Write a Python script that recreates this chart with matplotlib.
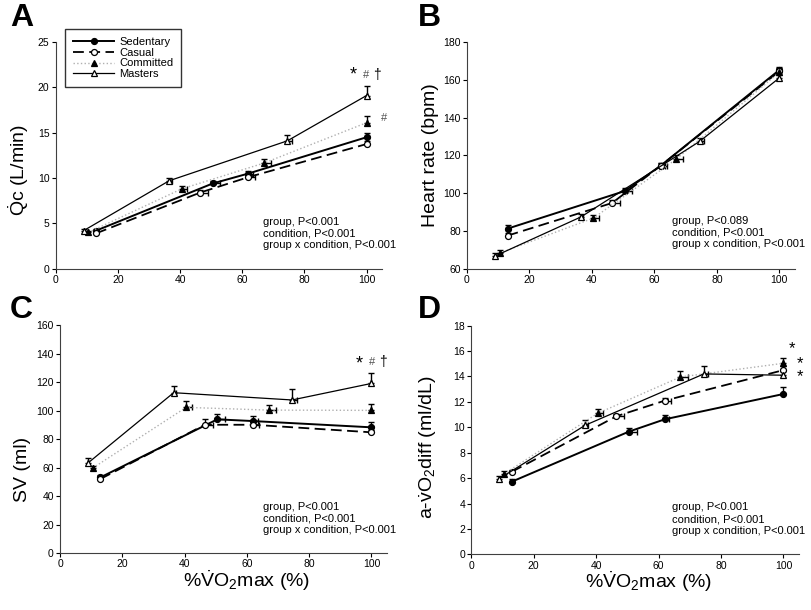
import matplotlib
matplotlib.use('Agg')
import matplotlib.pyplot as plt

plt.rcParams['font.family'] = ['Liberation Sans', 'DejaVu Sans']
plt.rcParams['mathtext.fontset'] = 'custom'
plt.rcParams['mathtext.rm'] = 'Liberation Sans'
plt.rcParams['mathtext.it'] = 'Liberation Sans:italic'

groups = ['Sedentary', 'Casual', 'Committed', 'Masters']

# %VO2max per group (x) and its horizontal SEM
x_vals = {
    'Sedentary': [13, 50.5, 62, 100],
    'Casual': [13, 46.5, 62, 100],
    'Committed': [10.5, 40.5, 67, 100],
    'Masters': [9, 36.5, 74.5, 100],
}
x_err = {
    'Sedentary': [0, 2.5, 1.5, 0],
    'Casual': [0, 2.5, 2.0, 0],
    'Committed': [0, 1.8, 2.3, 0],
    'Masters': [0, 0.8, 1.5, 0],
}

# A: cardiac output (L/min)
qc = {
    'Sedentary': [4.2, 9.4, 10.5, 14.5],
    'Casual': [3.9, 8.4, 10.1, 13.75],
    'Committed': [4.0, 8.8, 11.65, 16.1],
    'Masters': [4.2, 9.7, 14.1, 19.1],
}
qc_err = {
    'Sedentary': [0.2, 0.3, 0.3, 0.5],
    'Casual': [0.2, 0.3, 0.3, 0.3],
    'Committed': [0.2, 0.3, 0.45, 0.7],
    'Masters': [0.2, 0.35, 0.65, 1.0],
}

# B: heart rate (bpm)
hr = {
    'Sedentary': [81.2, 101.1, 114.5, 165.2],
    'Casual': [77.5, 94.8, 114.5, 164.5],
    'Committed': [68.3, 86.8, 118, 164],
    'Masters': [66.7, 87.4, 127.4, 161],
}
hr_err = {
    'Sedentary': [2, 1.5, 1.5, 1.5],
    'Casual': [1.5, 1.5, 1.5, 1.5],
    'Committed': [1.5, 1.5, 2, 1.5],
    'Masters': [1.5, 1.5, 2, 1.5],
}

# C: stroke volume (ml)
sv = {
    'Sedentary': [53.1, 93.8, 92.6, 88.2],
    'Casual': [52, 90, 90, 84.7],
    'Committed': [59.6, 102.2, 100.3, 100.1],
    'Masters': [63.2, 112.5, 107.4, 119],
}
sv_err = {
    'Sedentary': [1.5, 3.7, 3.4, 3.8],
    'Casual': [1.5, 4.3, 2, 1.5],
    'Committed': [1.5, 4.2, 3.6, 4.2],
    'Masters': [3.8, 4.9, 7.6, 7],
}

# D: a-vO2 difference (ml/dL)
avo2 = {
    'Sedentary': [5.72, 9.66, 10.63, 12.62],
    'Casual': [6.5, 10.87, 12.1, 14.5],
    'Committed': [6.33, 11.1, 13.96, 15.04],
    'Masters': [5.96, 10.16, 14.2, 14.1],
}
avo2_err = {
    'Sedentary': [0.2, 0.3, 0.3, 0.55],
    'Casual': [0.15, 0.2, 0.2, 0.3],
    'Committed': [0.2, 0.35, 0.45, 0.4],
    'Masters': [0.2, 0.45, 0.6, 0.3],
}

styles = {
    'Sedentary': dict(color='black', ls='-', lw=1.4, marker='o', mfc='black', mec='black'),
    'Casual': dict(color='black', ls=(0, (6, 3)), lw=1.3, marker='o', mfc='white', mec='black'),
    'Committed': dict(color='#b0b0b0', ls=':', lw=1.0, marker='^', mfc='black', mec='black'),
    'Masters': dict(color='black', ls='-', lw=0.9, marker='^', mfc='white', mec='black'),
}

stats_text = {
    'A': 'group, P<0.001\ncondition, P<0.001\ngroup x condition, P<0.001',
    'B': 'group, P<0.089\ncondition, P<0.001\ngroup x condition, P<0.001',
    'C': 'group, P<0.001\ncondition, P<0.001\ngroup x condition, P<0.001',
    'D': 'group, P<0.001\ncondition, P<0.001\ngroup x condition, P<0.001',
}

xlabel = r'%$\dot{\mathrm{V}}$O$_2$max (%)'

panels = [
    ('A', qc, qc_err, r'$\dot{\mathrm{Q}}$c (L/min)', (0, 25), 5,
     [0.0686, 0.5595, 0.402, 0.3716], (0.635, 0.229), (-0.075, 0.435)),
    ('B', hr, hr_err, 'Heart rate (bpm)', (60, 180), 20,
     [0.575, 0.5595, 0.404, 0.3716], (0.624, 0.232), (-0.085, 0.5)),
    ('C', sv, sv_err, 'SV (ml)', (0, 160), 20,
     [0.0739, 0.0934, 0.4027, 0.3738], (0.622, 0.225), (-0.088, 0.368)),
    ('D', avo2, avo2_err, r'a-$\dot{\mathrm{v}}$O$_2$diff (ml/dL)', (0, 18), 2,
     [0.5804, 0.0913, 0.4036, 0.3748], (0.611, 0.227), (-0.1, 0.469)),
]
xlabel_pos = {'C': (0.572, -0.066), 'D': (0.54, -0.066)}

fig = plt.figure(figsize=(8.12, 6.1), dpi=100)
axes = {}
for letter, data, err, ylab, ylim, ystep, rect, tpos, ypos in panels:
    ax = fig.add_axes(rect)
    axes[letter] = ax
    for g in groups:
        st = styles[g]
        ax.errorbar(x_vals[g], data[g],
                    yerr=[[0] * 4, err[g]], xerr=[[0] * 4, x_err[g]],
                    fmt='none', ecolor='black', elinewidth=1.0, capsize=2.3, capthick=1.0,
                    zorder=3)
        ax.plot(x_vals[g], data[g], color=st['color'], ls=st['ls'], lw=st['lw'],
                marker=st['marker'], ms=4.3, mfc=st['mfc'], mec=st['mec'], mew=0.9,
                label=g, zorder=4)
    ax.set_xlim(0, 105)
    ax.set_ylim(*ylim)
    ax.set_xticks([0, 20, 40, 60, 80, 100])
    ax.set_yticks(list(range(ylim[0], ylim[1] + 1, ystep)))
    ax.spines['top'].set_visible(False)
    ax.spines['right'].set_visible(False)
    ax.spines['left'].set_color('#404040')
    ax.spines['bottom'].set_color('#404040')
    ax.tick_params(direction='out', length=3, width=0.8, labelsize=7.5, pad=1.5)
    ax.set_ylabel(ylab, fontsize=14)
    ax.yaxis.set_label_coords(*ypos)
    ax.text(tpos[0], tpos[1], stats_text[letter], transform=ax.transAxes,
            fontsize=8, va='top', ha='left', linespacing=1.2)
    if letter in xlabel_pos:
        ax.set_xlabel(xlabel, fontsize=14)
        ax.xaxis.set_label_coords(*xlabel_pos[letter])

# panel letters
fig.text(0.012, 0.995, 'A', fontsize=23, fontweight='bold', va='top')
fig.text(0.515, 0.995, 'B', fontsize=23, fontweight='bold', va='top')
fig.text(0.012, 0.517, 'C', fontsize=23, fontweight='bold', va='top')
fig.text(0.515, 0.517, 'D', fontsize=23, fontweight='bold', va='top')

# legend in A
axA = axes['A']
leg = axA.legend(loc='upper left', bbox_to_anchor=(0.03, 1.058), fontsize=8,
                 frameon=True, fancybox=False, edgecolor='black', handlelength=3.7,
                 labelspacing=0.08, borderpad=0.7, handletextpad=0.45,
                 borderaxespad=0)
leg.get_frame().set_linewidth(1.0)

# significance marks
axA.text(95.8, 21.4, '*', fontsize=13, ha='center', va='center', clip_on=False)
axA.text(99.8, 21.4, '#', fontsize=8, color='#505050', ha='center', va='center', clip_on=False)
axA.text(103.2, 21.4, '\u2020', fontsize=10, ha='center', va='center', clip_on=False)
axA.text(105.5, 16.6, '#', fontsize=8, color='#505050', ha='center', va='center', clip_on=False)

axC = axes['C']
axC.text(96.2, 133, '*', fontsize=13, ha='center', va='center', clip_on=False)
axC.text(100.2, 134, '#', fontsize=8, color='#505050', ha='center', va='center', clip_on=False)
axC.text(103.6, 134, '\u2020', fontsize=10, ha='center', va='center', clip_on=False)

axD = axes['D']
axD.text(102.9, 16.2, '*', fontsize=12, ha='center', va='center', clip_on=False)
axD.text(105.4, 14.5, '*\n*', fontsize=12, ha='center', va='center', linespacing=0.78,
         clip_on=False)

fig.savefig('out.png', dpi=100)
